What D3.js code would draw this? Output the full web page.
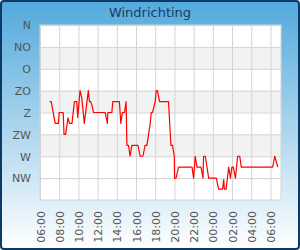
<!DOCTYPE html>
<html>

<head>
    <meta charset="utf-8">
    <title>Windrichting</title>
    <script src="https://d3js.org/d3.v7.min.js"></script>
    <style>
        body { margin: 0; }
        svg { display: block; font-family: "DejaVu Sans", sans-serif; }
    </style>
</head>

<body>

</body>
<script>
// compass labels, top to bottom (0 = N)
var directions = ["N", "NO", "O", "ZO", "Z", "ZW", "W", "NW"];
var dirDegrees = [0, 45, 90, 135, 180, 225, 270, 315];

// x axis tick labels (every 2 hours, starting day 1 06:00)
var timeTicks = ["06:00", "08:00", "10:00", "12:00", "14:00", "16:00", "18:00",
    "20:00", "22:00", "00:00", "02:00", "04:00", "06:00"];

// measurements: time of day and direction in degrees
var times = ["07:00", "07:10", "07:35", "07:55", "08:00", "08:25", "08:30", "08:40", "08:55", "09:05",
    "09:20", "09:35", "09:50", "09:56", "10:10", "10:21", "10:37", "11:02", "11:09", "11:17",
    "11:27", "11:34", "12:47", "13:01", "13:04", "13:29", "13:35", "14:16", "14:25", "14:35",
    "14:48", "14:58", "15:03", "15:13", "15:23", "15:34", "16:12", "16:26", "16:43", "16:57",
    "17:08", "17:29", "17:35", "17:43", "17:52", "18:00", "18:06", "18:14", "18:27", "19:23",
    "19:38", "19:48", "19:59", "20:01", "20:10", "20:26", "21:50", "22:00", "22:10", "22:21",
    "22:46", "22:59", "23:02", "23:13", "23:34", "00:22", "00:36", "01:01", "01:08", "01:12",
    "01:23", "01:39", "01:50", "01:59", "02:08", "02:21", "02:35", "02:48", "02:58", "06:14",
    "06:27", "06:46"];
var degrees = [157.5, 157.5, 202.5, 202.5, 180, 180, 225, 225, 191, 202.5,
    202.5, 157.5, 157.5, 190, 135, 150, 202.5, 135, 157.5, 157.5,
    168, 180, 180, 202.5, 180, 180, 157.5, 157.5, 202.5, 180,
    180, 157.5, 247.5, 247.5, 270, 247.5, 247.5, 270, 270, 247.5,
    247.5, 202.5, 180, 180, 168, 157.5, 135, 135, 157.5, 157.5,
    247.5, 247.5, 270, 315, 315, 292.5, 292.5, 315, 270, 292.5,
    292.5, 315, 270, 270, 315, 315, 337.5, 337.5, 318, 337.5,
    337.5, 292.5, 315, 292.5, 292.5, 315, 270, 270, 292.5, 292.5,
    270, 292.5];

var W = 300, H = 250;
var margin = { top: 25, right: 19, bottom: 50, left: 40 },
    width = W - margin.left - margin.right,
    height = H - margin.top - margin.bottom;

// turn "HH:MM" strings into dates, rolling over to the next day
var day0 = new Date(2024, 0, 1);
function toDates(list) {
    var dayOffset = 0, prev = -1;
    return list.map(function(t) {
        var p = t.split(":"), m = +p[0] * 60 + +p[1];
        if (m < prev) dayOffset++;
        prev = m;
        return new Date(day0.getTime() + (dayOffset * 1440 + m) * 60000);
    });
}
var dates = toDates(times);
var tickDates = toDates(timeTicks);
var data = dates.map(function(d, i) { return { t: d, v: degrees[i] }; });

var x = d3.scaleTime()
    .domain([tickDates[0], new Date(tickDates[tickDates.length - 1].getTime() + 66 * 60000)])
    .range([0, width]);

var y = d3.scaleLinear()
    .domain([0, 360])
    .range([0, height]);

var svg = d3.select("body").append("svg")
    .attr("width", W)
    .attr("height", H);

var grad = svg.append("defs").append("linearGradient")
    .attr("id", "bg")
    .attr("x1", 0).attr("y1", 0).attr("x2", 0).attr("y2", 1);
grad.append("stop").attr("offset", "0%").attr("stop-color", "#52a9dc");
grad.append("stop").attr("offset", "100%").attr("stop-color", "#ffffff");

svg.append("rect")
    .attr("x", 1).attr("y", 1)
    .attr("width", W - 2).attr("height", H - 2)
    .attr("rx", 3)
    .attr("fill", "url(#bg)")
    .attr("stroke", "#0b3a66")
    .attr("stroke-width", 2);

svg.append("text")
    .attr("x", W / 2)
    .attr("y", 17)
    .attr("text-anchor", "middle")
    .attr("fill", "#163d66")
    .style("font-size", "13px")
    .text("Windrichting");

var g = svg.append("g")
    .attr("transform", "translate(" + margin.left + "," + margin.top + ")");

g.append("rect")
    .attr("width", width)
    .attr("height", height)
    .attr("fill", "#fff");

// alternating bands
g.selectAll(".band")
    .data([45, 135, 225])
    .enter()
    .append("rect")
    .attr("class", "band")
    .attr("x", 0)
    .attr("width", width)
    .attr("y", function(d) { return y(d); })
    .attr("height", function(d) { return y(d + 45) - y(d); })
    .attr("fill", "#f2f2f2");

var yAxis = d3.axisLeft(y)
    .tickValues(dirDegrees)
    .tickSize(-width)
    .tickFormat(function(d, i) { return directions[i]; });

var xAxis = d3.axisBottom(x)
    .tickValues(tickDates)
    .tickSize(-height)
    .tickFormat(function(d, i) { return timeTicks[i]; });

var gy = g.append("g").attr("class", "y axis").call(yAxis);
gy.select(".domain").remove();
gy.selectAll("line").attr("stroke", "#d4d4d4");
gy.selectAll("text")
    .attr("x", -9)
    .attr("dy", "0.35em")
    .attr("fill", "#555")
    .style("font-size", "11px")
    .style("font-family", "DejaVu Sans");

var gx = g.append("g")
    .attr("class", "x axis")
    .attr("transform", "translate(0," + height + ")")
    .call(xAxis);
gx.select(".domain").remove();
gx.selectAll("line").attr("stroke", "#d4d4d4");
gx.selectAll("text")
    .attr("y", 0)
    .attr("dy", 0)
    .attr("transform", "translate(4,11) rotate(-90)")
    .attr("text-anchor", "end")
    .attr("fill", "#555")
    .style("font-size", "11px")
    .style("font-family", "DejaVu Sans");

g.append("rect")
    .attr("width", width)
    .attr("height", height)
    .attr("fill", "none")
    .attr("stroke", "#d4d4d4");

var line = d3.line()
    .x(function(d) { return x(d.t); })
    .y(function(d) { return y(d.v); });

g.append("path")
    .datum(data)
    .attr("d", line)
    .attr("fill", "none")
    .attr("stroke", "red")
    .attr("stroke-width", 1.2)
    .attr("stroke-linejoin", "round");

</script>

</html>
